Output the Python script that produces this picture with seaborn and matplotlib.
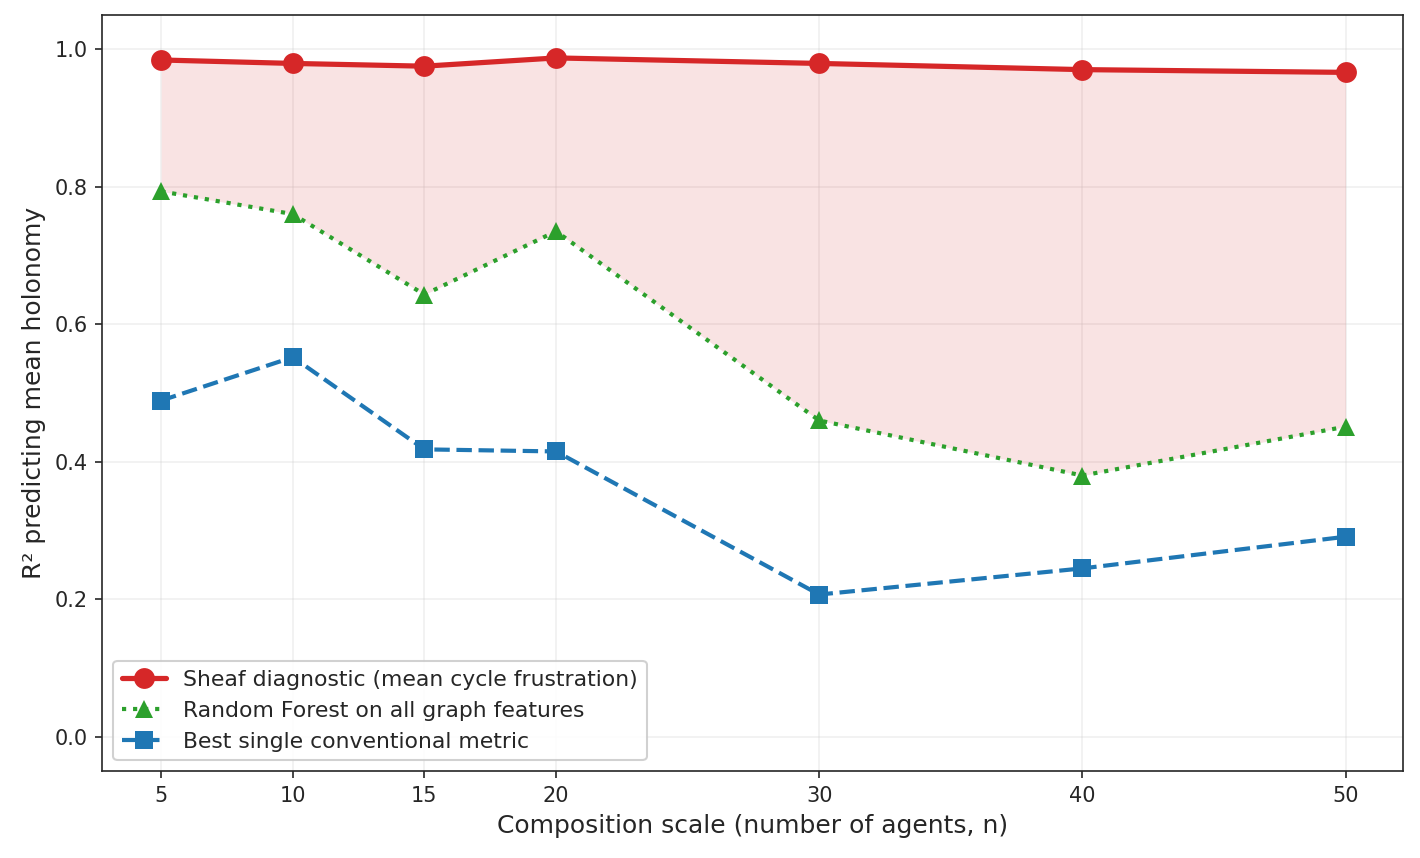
import seaborn as sns
import pandas as pd
import matplotlib.pyplot as plt

# values
n_agents = [5, 10, 15, 20, 30, 40, 50]
sheaf = [0.984, 0.979, 0.975, 0.987, 0.979, 0.970, 0.966]
forest = [0.793, 0.760, 0.643, 0.735, 0.460, 0.380, 0.451]
single = [0.489, 0.552, 0.418, 0.415, 0.207, 0.245, 0.291]

df = pd.DataFrame({"n": n_agents, "sheaf": sheaf, "forest": forest, "single": single})

sns.set_style("ticks")
plt.rcParams['font.family'] = ['DejaVu Sans']
fig, ax = plt.subplots(figsize=(9.47, 5.72), dpi=150)

ax.fill_between(df["n"], df["forest"], df["sheaf"], color="#d62728", alpha=0.13, linewidth=0)
sns.lineplot(data=df, x="n", y="sheaf", ax=ax, color="#d62728", linewidth=2.5, marker="o",
             markersize=10, markeredgewidth=0, label="Sheaf diagnostic (mean cycle frustration)")
sns.lineplot(data=df, x="n", y="forest", ax=ax, color="#2ca02c", linewidth=2, linestyle=":",
             marker="^", markersize=9, markeredgewidth=0, label="Random Forest on all graph features")
sns.lineplot(data=df, x="n", y="single", ax=ax, color="#1f77b4", linewidth=2, linestyle="--",
             marker="s", markersize=9, markeredgewidth=0, label="Best single conventional metric")

ax.set_xticks(n_agents)
ax.set_xlim(2.76, 52.2)
ax.set_ylim(-0.05, 1.05)
ax.grid(True, alpha=0.3)
ax.set_xlabel("Composition scale (number of agents, n)", fontsize=12)
ax.set_ylabel("R² predicting mean holonomy", fontsize=12)
ax.legend(loc="lower left", fontsize=10.5, framealpha=0.9)
fig.subplots_adjust(left=0.072, right=0.988, top=0.983, bottom=0.101)
fig.savefig("out.png")
